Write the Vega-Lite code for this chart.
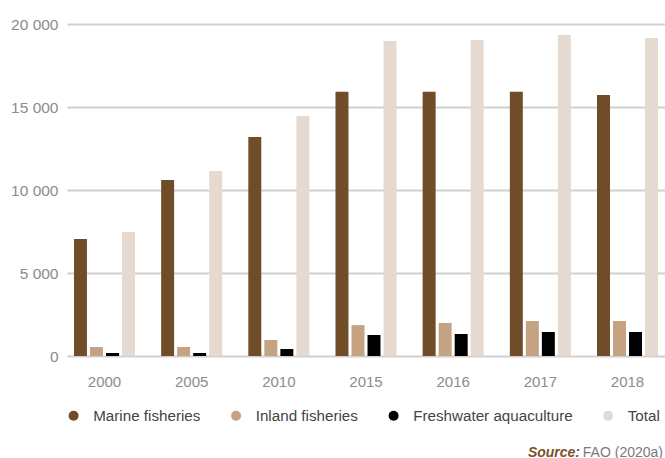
{
  "$schema": "https://vega.github.io/schema/vega-lite/v6.json",
  "width": 598,
  "height": 332,
  "autosize": {"type": "none"},
  "padding": {"left": 67, "top": 24, "right": 0, "bottom": 102},
  "background": "white",
  "data": {
    "values": [
      {"year": "2000", "series": "Marine fisheries", "value": 7050},
      {"year": "2000", "series": "Inland fisheries", "value": 540},
      {"year": "2000", "series": "Freshwater aquaculture", "value": 180},
      {"year": "2000", "series": "Total", "value": 7470},
      {"year": "2005", "series": "Marine fisheries", "value": 10600},
      {"year": "2005", "series": "Inland fisheries", "value": 540},
      {"year": "2005", "series": "Freshwater aquaculture", "value": 180},
      {"year": "2005", "series": "Total", "value": 11140},
      {"year": "2010", "series": "Marine fisheries", "value": 13190},
      {"year": "2010", "series": "Inland fisheries", "value": 965},
      {"year": "2010", "series": "Freshwater aquaculture", "value": 420},
      {"year": "2010", "series": "Total", "value": 14460},
      {"year": "2015", "series": "Marine fisheries", "value": 15920},
      {"year": "2015", "series": "Inland fisheries", "value": 1860},
      {"year": "2015", "series": "Freshwater aquaculture", "value": 1265},
      {"year": "2015", "series": "Total", "value": 18980},
      {"year": "2016", "series": "Marine fisheries", "value": 15920},
      {"year": "2016", "series": "Inland fisheries", "value": 1990},
      {"year": "2016", "series": "Freshwater aquaculture", "value": 1325},
      {"year": "2016", "series": "Total", "value": 19040},
      {"year": "2017", "series": "Marine fisheries", "value": 15920},
      {"year": "2017", "series": "Inland fisheries", "value": 2110},
      {"year": "2017", "series": "Freshwater aquaculture", "value": 1445},
      {"year": "2017", "series": "Total", "value": 19340},
      {"year": "2018", "series": "Marine fisheries", "value": 15720},
      {"year": "2018", "series": "Inland fisheries", "value": 2110},
      {"year": "2018", "series": "Freshwater aquaculture", "value": 1445},
      {"year": "2018", "series": "Total", "value": 19160}
    ]
  },
  "title": {
    "text": "Source:",
    "subtitle": "FAO (2020a)",
    "orient": "bottom",
    "anchor": "end",
    "frame": "group",
    "offset": 22,
    "dx": -2,
    "font": "Liberation Sans",
    "fontSize": 14,
    "fontStyle": "italic",
    "fontWeight": "bold",
    "color": "#7a532e",
    "subtitleFont": "Liberation Sans",
    "subtitleFontSize": 14,
    "subtitleColor": "#7a7a7a",
    "subtitleFontWeight": "normal",
    "subtitleFontStyle": "normal",
    "subtitlePadding": -14,
    "encoding": {"dx": {"value": -85}}
  },
  "mark": {"type": "bar"},
  "encoding": {
    "x": {
      "field": "year",
      "type": "nominal",
      "scale": {"paddingInner": 0.3, "paddingOuter": 0.08},
      "axis": {
        "title": null,
        "labelAngle": 0,
        "ticks": false,
        "domain": false,
        "grid": false,
        "labelPadding": 18,
        "labelFont": "Liberation Sans",
        "labelFontSize": 15,
        "labelColor": "#8c8c8c"
      }
    },
    "xOffset": {
      "field": "series",
      "type": "nominal",
      "sort": ["Marine fisheries", "Inland fisheries", "Freshwater aquaculture", "Total"],
      "scale": {"paddingInner": 0.19, "paddingOuter": 0}
    },
    "y": {
      "field": "value",
      "type": "quantitative",
      "scale": {"domain": [0, 20000], "nice": false},
      "axis": {
        "title": null,
        "values": [0, 5000, 10000, 15000, 20000],
        "labelExpr": "replace(format(datum.value, ','), ',', ' ')",
        "ticks": false,
        "domain": false,
        "grid": true,
        "gridColor": "#d0d0d0",
        "gridWidth": 2,
        "labelPadding": 9,
        "labelFont": "Liberation Sans",
        "labelFontSize": 15.5,
        "labelColor": "#8c8c8c"
      }
    },
    "color": {
      "field": "series",
      "type": "nominal",
      "scale": {
        "domain": ["Marine fisheries", "Inland fisheries", "Freshwater aquaculture", "Total"],
        "range": ["#704c29", "#c5a282", "#000000", "#e6d9cf"]
      },
      "legend": {
        "title": null,
        "orient": "none",
        "direction": "horizontal",
        "legendX": -1,
        "legendY": 384,
        "symbolType": "circle",
        "symbolSize": 100,
        "symbolStrokeWidth": 0,
        "symbolOpacity": 1,
        "labelOffset": 12,
        "columnPadding": 27.5,
        "padding": 0,
        "labelFont": "Liberation Sans",
        "labelFontSize": 15.2,
        "labelColor": "#444444"
      }
    }
  },
  "config": {
    "view": {"stroke": null},
    "font": "Liberation Sans"
  }
}
